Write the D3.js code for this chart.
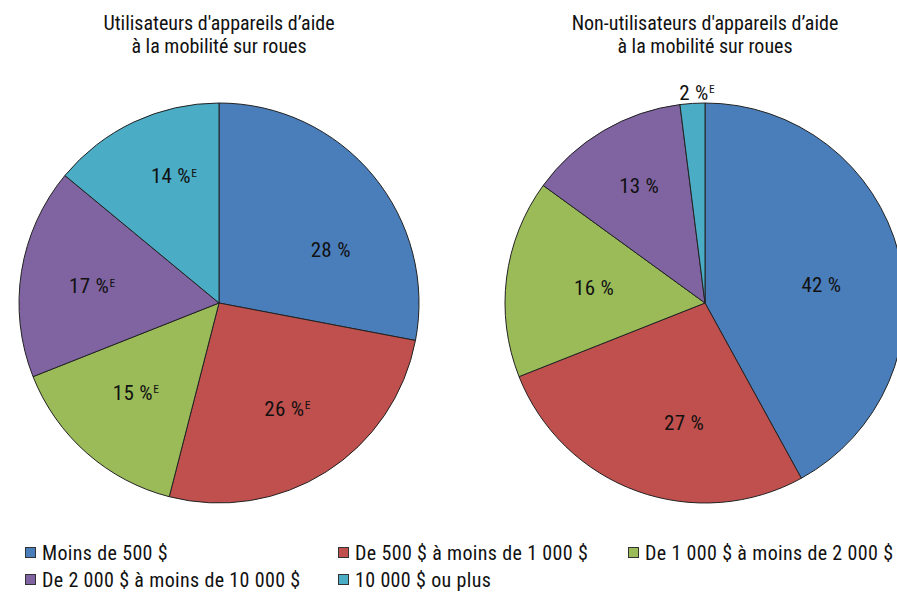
<!DOCTYPE html>
<html><head><meta charset="utf-8">
<script src="https://cdn.jsdelivr.net/npm/d3@7"></script>
<style>
html,body{margin:0;padding:0;background:#fff;}
svg{display:block;font-family:"Liberation Sans Narrow","Arial Narrow","Roboto Condensed",sans-serif;}
</style></head>
<body>
<svg id="c" width="897" height="594"></svg>
<script>
// ---- data ----
const categories = ["Moins de 500 $", "De 500 $ à moins de 1 000 $", "De 1 000 $ à moins de 2 000 $", "De 2 000 $ à moins de 10 000 $", "10 000 $ ou plus"];
const pieTitles = [["Utilisateurs d'appareils d\u2019aide", "à la mobilité sur roues"], ["Non-utilisateurs d'appareils d\u2019aide", "à la mobilité sur roues"]];
const usersValues = [28, 26, 15, 17, 14];
const usersFlags = ["", "E", "E", "E", "E"];
const nonUsersValues = [42, 27, 16, 13, 2];
const nonUsersFlags = ["", "", "", "", "E"];

// ---- layout / style ----
const colors = ["#4a7ebb", "#c0504d", "#9bbb59", "#8064a2", "#4bacc6"];
const R = 200;
const centers = [[219, 303], [705, 303]];
const labelAngleNudge = [[13.9, 0.6, 2.6, -1.5, 4.5], [5.1, -9.8, 0.8, 1.4, 0.6]];
const labelRadius = [[0.62, 0.62, 0.62, 0.655, 0.68], [0.59, 0.605, 0.56, 0.675, 1.055]];

const svg = d3.select("#c");
const pieGen = d3.pie().sort(null).value(d => d);
const arcGen = d3.arc().innerRadius(0).outerRadius(R);

const datasets = [[usersValues, usersFlags], [nonUsersValues, nonUsersFlags]];
datasets.forEach(([vals, flags], pi) => {
  const g = svg.append("g").attr("transform", `translate(${centers[pi][0]},${centers[pi][1]})`);
  const arcs = pieGen(vals);
  g.selectAll("path").data(arcs).enter().append("path")
    .attr("d", arcGen)
    .attr("fill", (d, i) => colors[i])
    .attr("stroke", "#222")
    .attr("stroke-width", 1)
    .attr("stroke-linejoin", "round");
  arcs.forEach((a, i) => {
    const mid = (a.startAngle + a.endAngle) / 2 + labelAngleNudge[pi][i] * Math.PI / 180;
    const r = R * labelRadius[pi][i];
    const x = Math.sin(mid) * r, y = -Math.cos(mid) * r;
    const t = g.append("text").attr("x", x).attr("y", y).attr("dy", "0.36em")
      .attr("text-anchor", "middle").attr("font-size", 21).attr("letter-spacing", 0.3).attr("fill", "#111")
      .text(vals[i] + " %");
    if (flags[i]) {
      const w = t.node().getComputedTextLength();
      g.append("text").attr("x", x + w / 2 + 0.3).attr("y", y + 1)
        .attr("font-size", 11.5).attr("fill", "#111").text(flags[i]);
    }
  });
  // title
  const tx = centers[pi][0];
  pieTitles[pi].forEach((line, li) => {
    svg.append("text").attr("x", tx).attr("y", 30 + li * 23)
      .attr("text-anchor", "middle").attr("font-size", 20).attr("fill", "#111").text(line);
  });
});

// ---- legend ----
const legendCols = [25, 338, 628];
const legendRows = [553, 580];
categories.forEach((c, i) => {
  const col = i % 3, row = Math.floor(i / 3);
  const x = legendCols[col], y = legendRows[row];
  svg.append("rect").attr("x", x + 0.5).attr("y", y - 5.5).attr("width", 10).attr("height", 10)
    .attr("fill", colors[i]).attr("stroke", "#333").attr("stroke-width", 1);
  svg.append("text").attr("x", x + 17).attr("y", y).attr("dy", "0.36em")
    .attr("font-size", 20).attr("letter-spacing", 0.35).attr("fill", "#111").text(c);
});
</script>
</body></html>
